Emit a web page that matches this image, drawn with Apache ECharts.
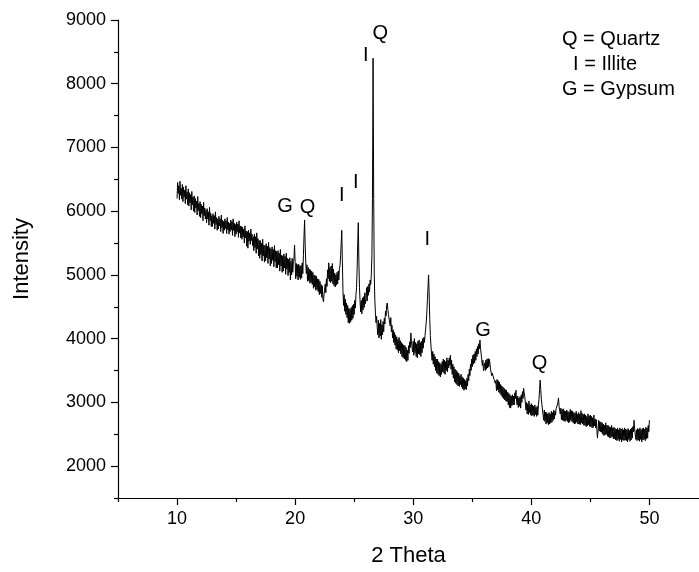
<!DOCTYPE html>
<html>
<head>
<meta charset="utf-8">
<script src="https://cdn.jsdelivr.net/npm/echarts@6/dist/echarts.min.js"></script>
<style>
html,body{margin:0;padding:0;background:#fff;}
#chart{width:699px;height:572px;}
</style>
</head>
<body>
<div id="chart"></div>
<script>
// 2-theta sampling grid of the scan
const thetaStart = 10.0;
const thetaStep = 0.05;
// Intensity readings, 10.00 to 50.00 in 0.05 steps
const intensity = [
6200,6450,6280,6400,6180,6470,6250,6360,6190,6420,
6150,6380,6220,6330,6120,6400,6190,6300,6100,6350,
6080,6290,6130,6260,6020,6310,6100,6220,6000,6240,
5980,6200,6050,6160,5940,6230,6010,6120,5920,6150,
5900,6110,5960,6080,5850,6140,5930,6050,5880,6020,
5820,6040,5880,5990,5780,6060,5850,5970,5760,5930,
5760,5960,5810,5930,5720,5990,5790,5900,5700,5880,
5720,5920,5770,5880,5680,5940,5740,5860,5650,5840,
5700,5880,5730,5850,5650,5900,5710,5830,5640,5810,
5680,5860,5710,5840,5620,5880,5700,5810,5600,5790,
5640,5830,5680,5800,5590,5850,5660,5770,5580,5760,
5560,5750,5600,5720,5500,5770,5580,5690,5450,5680,
5420,5700,5530,5660,5480,5720,5540,5640,5460,5600,
5380,5640,5430,5600,5340,5660,5410,5570,5300,5540,
5260,5540,5320,5500,5220,5560,5300,5470,5200,5460,
5220,5490,5270,5450,5180,5510,5250,5430,5140,5410,
5180,5440,5230,5400,5130,5460,5210,5380,5110,5370,
5110,5380,5160,5340,5060,5400,5140,5310,5040,5300,
5060,5330,5110,5290,5010,5340,5090,5260,4990,5250,
5040,5270,4920,5210,5000,5260,5040,5210,5250,5470,
5200,4940,5180,4980,5160,4920,5170,4960,5140,4930,
5150,4950,5190,5020,5300,5600,5860,5480,5200,5020,
5160,4900,5120,4910,5090,4870,5080,4880,5060,4850,
5040,4790,5000,4810,4990,4760,4980,4770,4940,4740,
4930,4690,4900,4710,4850,4650,4830,4620,4580,4700,
4680,4860,4720,4940,4820,5080,4940,5190,4900,5120,
4880,5140,4900,5180,4860,5090,4830,5030,4810,5000,
4840,5040,4860,5060,4920,5100,5150,5300,5500,5700,
5200,4750,4520,4690,4430,4620,4380,4560,4330,4520,
4250,4480,4240,4460,4260,4490,4290,4520,4320,4540,
4380,4600,4480,4680,4800,5100,5500,5820,5200,4800,
4580,4420,4600,4390,4640,4450,4660,4490,4720,4550,
4610,4800,4590,4820,4680,4860,4730,4920,4850,5000,
5300,6200,8400,6300,5000,4600,4400,4250,4350,4180,
4060,4290,4010,4240,4040,4300,3990,4220,4060,4270,
4110,4320,4230,4430,4360,4520,4560,4460,4380,4400,
4400,4200,4330,4110,4210,4010,4140,3940,4100,3900,
4060,3840,4030,3820,3990,3780,4020,3810,3970,3760,
3940,3720,3920,3700,3900,3680,3890,3660,3860,3640,
3820,3660,3890,3770,3950,3860,4090,3950,3930,3790,
3960,3740,4000,3780,3940,3720,3920,3700,3960,3760,
3980,3750,3940,3720,3960,3780,4000,3850,4020,3940,
4050,4150,4250,4400,4600,4800,5000,4700,4300,4050,
3900,3760,3660,3800,3600,3760,3560,3720,3500,3680,
3460,3680,3440,3640,3420,3620,3400,3600,3440,3640,
3480,3680,3460,3660,3440,3640,3500,3700,3480,3660,
3540,3700,3580,3740,3520,3660,3440,3600,3380,3560,
3320,3520,3300,3500,3280,3480,3260,3460,3250,3420,
3280,3440,3240,3400,3210,3380,3190,3360,3210,3340,
3200,3380,3260,3440,3340,3520,3420,3600,3500,3680,
3560,3740,3600,3760,3620,3800,3660,3840,3720,3880,
3760,3920,3840,3980,3850,3760,3680,3580,3660,3500,
3470,3620,3500,3660,3520,3680,3540,3690,3560,3680,
3660,3520,3540,3420,3460,3420,3420,3360,3360,3300,
3340,3180,3360,3200,3340,3160,3320,3140,3280,3110,
3260,3080,3240,3060,3220,3040,3200,3020,3190,3010,
3160,2960,3140,2920,3120,2910,3100,2950,3120,2960,
3100,2960,3150,3060,3190,3020,2960,3100,2920,3070,
2940,3090,2910,3120,3000,3170,3060,3220,3240,3080,
3060,2880,3000,2820,2980,2810,3020,2840,2960,2800,
2980,2790,2960,2800,2940,2780,2960,2810,2920,2780,
2940,2800,2960,3050,3200,3350,3200,3050,2960,2880,
2900,2720,2880,2700,2850,2660,2840,2680,2820,2650,
2840,2660,2820,2680,2860,2690,2840,2720,2880,2740,
2860,2800,2900,2880,2960,3000,3070,2940,2880,2820,
2910,2730,2890,2720,2900,2710,2870,2700,2860,2720,
2880,2700,2860,2680,2850,2690,2890,2720,2870,2700,
2860,2680,2840,2660,2830,2670,2860,2690,2820,2660,
2840,2660,2820,2650,2870,2680,2830,2660,2810,2640,
2820,2640,2800,2620,2780,2630,2820,2650,2790,2620,
2800,2620,2780,2600,2760,2610,2800,2630,2740,2600,
2730,2580,2440,2560,2720,2550,2700,2540,2690,2530,
2680,2500,2660,2480,2640,2490,2680,2500,2640,2470,
2640,2460,2620,2440,2610,2450,2640,2460,2600,2430,
2610,2430,2590,2410,2580,2400,2600,2420,2570,2390,
2600,2420,2580,2380,2590,2410,2570,2400,2600,2410,
2580,2400,2570,2380,2590,2420,2560,2390,2580,2410,
2600,2440,2620,2540,2720,2580,2580,2420,2570,2400,
2590,2410,2580,2390,2600,2420,2570,2380,2590,2410,
2600,2420,2580,2400,2610,2430,2600,2440,2640,2540,
2720
];
// Phase labels above peaks
const peakText = ['G','Q','I','I','I','Q','I','G','Q'];
const peakX = [19.15, 21.04, 23.96, 25.14, 25.99, 27.20, 31.19, 35.91, 40.69];
const peakY = [6070, 6060, 6254, 6447, 8451, 8796, 5556, 4136, 3610];
// Axis ticks
const xMajorTicks = [10, 20, 30, 40, 50];
const xMinorTicks = [5, 15, 25, 35, 45];
const yMajorTicks = [2000, 3000, 4000, 5000, 6000, 7000, 8000, 9000];
const yMinorTicks = [1500, 2500, 3500, 4500, 5500, 6500, 7500, 8500];
const legendLines = ['Q = Quartz', '  I = Illite', 'G = Gypsum'];

const lineData = intensity.map((v, i) => [+(thetaStart + i * thetaStep).toFixed(2), v]);
const labelData = peakText.map((t, i) => ({ name: t, value: [peakX[i], peakY[i]] }));

const FONT = 'Liberation Sans, Arial, sans-serif';
const chart = echarts.init(document.getElementById('chart'), null, { renderer: 'canvas' });

const xCommon = { type: 'value', min: 5, max: 54.2, position: 'bottom', splitLine: { show: false } };
const yCommon = { type: 'value', min: 1500, max: 9000, position: 'left', splitLine: { show: false } };

chart.setOption({
  animation: false,
  backgroundColor: '#fff',
  grid: { left: 118, right: 0, top: 20, bottom: 74 },
  xAxis: [
    Object.assign({}, xCommon, {
      name: '2 Theta', nameLocation: 'middle', nameGap: 47,
      nameTextStyle: { fontFamily: FONT, fontSize: 22, color: '#000' },
      axisLine: { show: true, lineStyle: { color: '#000', width: 1.2 } },
      axisTick: { show: true, inside: false, length: 7, customValues: xMajorTicks, lineStyle: { color: '#000', width: 1.2 } },
      axisLabel: { show: true, customValues: xMajorTicks, margin: 12, fontFamily: FONT, fontSize: 18, color: '#000',
        formatter: v => String(v) }
    }),
    Object.assign({}, xCommon, {
      axisLine: { show: false },
      axisTick: { show: true, inside: false, length: 4, customValues: xMinorTicks, lineStyle: { color: '#000', width: 1.2 } },
      axisLabel: { show: false }
    })
  ],
  yAxis: [
    Object.assign({}, yCommon, {
      name: 'Intensity', nameLocation: 'middle', nameGap: 85, nameRotate: 90,
      nameTextStyle: { fontFamily: FONT, fontSize: 22, color: '#000' },
      axisLine: { show: true, lineStyle: { color: '#000', width: 1.2 } },
      axisTick: { show: true, inside: false, length: 7, customValues: yMajorTicks, lineStyle: { color: '#000', width: 1.2 } },
      axisLabel: { show: true, customValues: yMajorTicks, margin: 12, fontFamily: FONT, fontSize: 18, color: '#000',
        formatter: v => String(v) }
    }),
    Object.assign({}, yCommon, {
      axisLine: { show: false },
      axisTick: { show: true, inside: false, length: 4, customValues: yMinorTicks, lineStyle: { color: '#000', width: 1.2 } },
      axisLabel: { show: false }
    })
  ],
  series: [
    {
      type: 'line', xAxisIndex: 0, yAxisIndex: 0,
      data: lineData, showSymbol: false, symbol: 'none',
      lineStyle: { color: '#000', width: 1 },
      clip: false
    },
    {
      type: 'scatter', xAxisIndex: 0, yAxisIndex: 0,
      data: labelData, symbolSize: 0, itemStyle: { color: '#000', opacity: 1 },
      label: { show: true, position: 'inside', formatter: '{b}', fontFamily: FONT, fontSize: 20,
        color: '#000', opacity: 1, textBorderWidth: 0 }
    }
  ],
  graphic: [
    {
      type: 'text', left: 562, top: 27,
      style: { text: legendLines.join('\n'), font: '20px ' + FONT, fill: '#000', lineHeight: 25 }
    }
  ]
});
</script>
</body>
</html>
